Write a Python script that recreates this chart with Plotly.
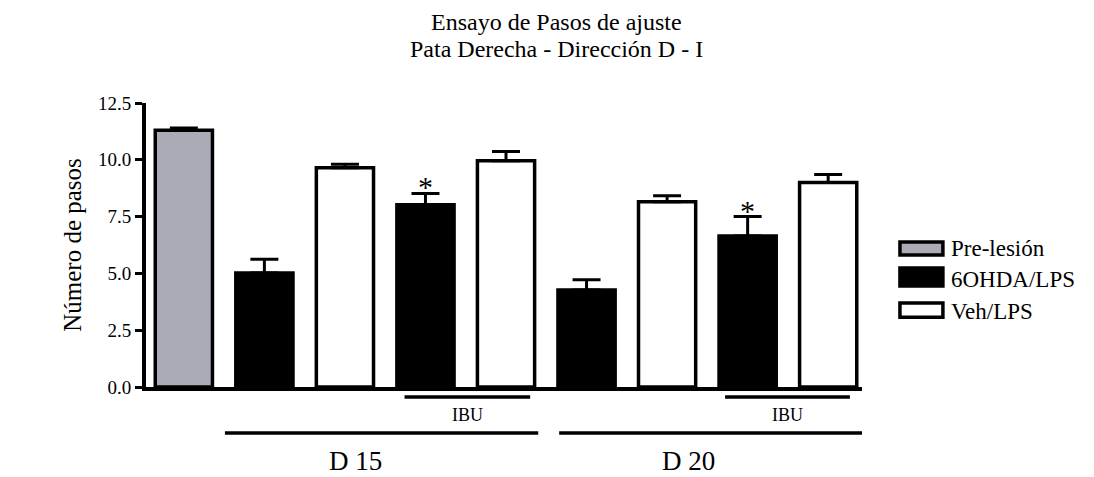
import plotly.graph_objects as go

categories = ["Pre-lesión", "D15 6OHDA/LPS", "D15 Veh/LPS", "D15 6OHDA/LPS IBU", "D15 Veh/LPS IBU",
              "D20 6OHDA/LPS", "D20 Veh/LPS", "D20 6OHDA/LPS IBU", "D20 Veh/LPS IBU"]
series_names = ["Pre-lesión", "6OHDA/LPS", "Veh/LPS"]
series_colors = ["#ABABB6", "black", "white"]
pre_values = [11.3]
pre_err = [0.1]
ohda_values = [5.02, 8.02, 4.27, 6.65]
ohda_err = [0.6, 0.5, 0.45, 0.85]
veh_values = [9.65, 9.96, 8.15, 9.0]
veh_err = [0.15, 0.4, 0.27, 0.35]
star_flags = [False, True, False, True]
group_labels = ["D 15", "D 20"]
treatment_label = "IBU"
title_lines = ["Ensayo de Pasos de ajuste", "Pata Derecha - Dirección D - I"]

FONT = "'Liberation Serif', 'DejaVu Serif', serif"

pre_x = [categories[0]]
ohda_x = [categories[1], categories[3], categories[5], categories[7]]
veh_x = [categories[2], categories[4], categories[6], categories[8]]

def err(arr):
    return dict(type="data", symmetric=False, array=arr, arrayminus=[0]*len(arr),
                color="black", thickness=3, width=14)

fig = go.Figure()
for name, col, xs, ys, es in zip(series_names, series_colors,
                                 [pre_x, ohda_x, veh_x],
                                 [pre_values, ohda_values, veh_values],
                                 [pre_err, ohda_err, veh_err]):
    fig.add_trace(go.Bar(x=xs, y=ys, name=name, width=0.71,
                         marker=dict(color=col, line=dict(color="black", width=3.5)),
                         error_y=err(es), showlegend=False))

annotations = []
for xv, v, e, s in zip(ohda_x, ohda_values, ohda_err, star_flags):
    if s:
        annotations.append(dict(x=xv, y=v + e, xref="x", yref="y", text="*", showarrow=False,
                                yanchor="bottom", yshift=-12,
                                font=dict(family=FONT, size=30, color="black")))

# title as two centred lines
for ty, t in zip([1.285, 1.19], title_lines):
    annotations.append(dict(x=0.573, y=ty, xref="paper", yref="paper", text=t, showarrow=False,
                            xanchor="center", yanchor="middle",
                            font=dict(family=FONT, size=24, color="black")))

shapes = []
def hline(x0, x1, y):
    shapes.append(dict(type="line", xref="x", yref="paper", x0=x0, x1=x1, y0=y, y1=y,
                       line=dict(color="black", width=3.5)))

# group lines (category index positions)
hline(2.74, 4.30, -0.035)
hline(6.72, 8.27, -0.035)
hline(0.51, 4.40, -0.162)
hline(4.66, 8.42, -0.162)
for xc in [3.52, 7.5]:
    annotations.append(dict(x=xc, y=-0.1, xref="x", yref="paper", text=treatment_label,
                            showarrow=False, yanchor="middle",
                            font=dict(family=FONT, size=18, color="black")))
for xc, t in zip([2.13, 6.27], group_labels):
    annotations.append(dict(x=xc, y=-0.262, xref="x", yref="paper", text=t, showarrow=False,
                            yanchor="middle",
                            font=dict(family=FONT, size=27, color="black")))

# manual legend (wide boxes like the original)
box_y = [(0.465, 0.511), (0.356, 0.419), (0.246, 0.296)]
text_y = [0.486, 0.380, 0.266]
for name, col, (y0, y1), ty in zip(series_names, series_colors, box_y, text_y):
    shapes.append(dict(type="rect", xref="paper", yref="paper", x0=1.053, x1=1.113, y0=y0, y1=y1,
                       fillcolor=col, line=dict(color="black", width=3.5)))
    annotations.append(dict(x=1.121, y=ty, xref="paper", yref="paper", text=name, showarrow=False,
                            xanchor="left", yanchor="middle",
                            font=dict(family=FONT, size=23, color="black")))

fig.update_layout(
    width=1094, height=477,
    margin=dict(l=138, r=240, t=95, b=98),
    paper_bgcolor="white", plot_bgcolor="white",
    barmode="overlay",
    showlegend=False,
    annotations=annotations,
    shapes=shapes,
)
fig.update_xaxes(type="category", categoryorder="array", categoryarray=categories,
                 range=[-0.47, 8.42], showticklabels=False, ticks="",
                 showline=True, linecolor="black", linewidth=4, showgrid=False, zeroline=False)
fig.update_yaxes(range=[0, 12.5], tickvals=[0, 2.5, 5, 7.5, 10, 12.5], tickformat=".1f",
                 ticks="outside", ticklen=7, tickwidth=3, tickcolor="black",
                 showline=True, linecolor="black", linewidth=4, showgrid=False, zeroline=False,
                 tickfont=dict(family=FONT, size=19, color="black"),
                 title=dict(text="Número de pasos", font=dict(family=FONT, size=25, color="black"),
                            standoff=10))

fig.write_html("out.html")
